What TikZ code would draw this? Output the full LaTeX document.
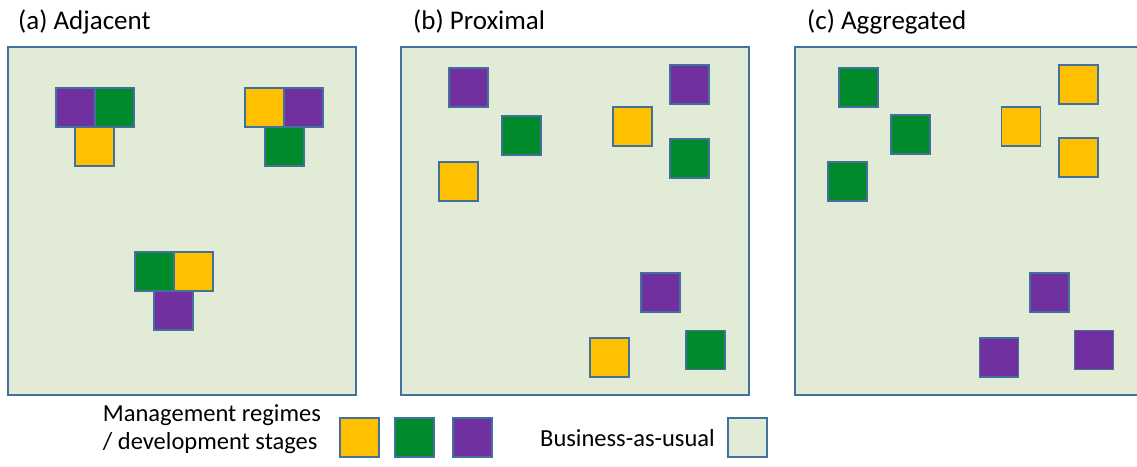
\documentclass[tikz,border=0pt]{standalone}
\usepackage{fontspec}
\setmainfont{Carlito}
\definecolor{bau}{HTML}{E2EBD6}
\definecolor{edge}{HTML}{41719C}
\definecolor{myyellow}{HTML}{FFC000}
\definecolor{mygreen}{HTML}{008A2B}
\definecolor{mypurple}{HTML}{7030A0}
\tikzset{
  panel/.style={draw=edge, line width=1.6pt, fill=bau},
  sq/.style={draw=edge, line width=1.2pt, minimum width=39pt, minimum height=39pt, inner sep=0pt, outer sep=0pt},
  ys/.style={sq, fill=myyellow},
  gs/.style={sq, fill=mygreen},
  ps/.style={sq, fill=mypurple},
  bs/.style={sq, fill=bau},
  title/.style={font=\fontsize{27}{32}\selectfont, inner sep=0pt, anchor=base west},
  legtext/.style={font=\fontsize{24.5}{29}\selectfont, inner sep=0pt}
}
\begin{document}
\begin{tikzpicture}[x=1pt, y=-1pt]
\useasboundingbox (0,0) rectangle (1137,466);
\clip (0,0) rectangle (1137,466);
% titles
\node[title] (ta) at (18,29) {(a) Adjacent};
\node[title] (tb) at (413,29) {(b) Proximal};
\node[title] (tc) at (807,29) {(c) Aggregated};
% panels
\draw[panel] (8,47) rectangle (356,395);
\draw[panel] (401,47) rectangle (749,395);
\draw[panel] (795,47) rectangle (1143,395);
% panel (a)
\node[ps] (a1) at (75.5,107.5) {};
\node[gs] (a2) at (114.5,107.5) {};
\node[ys] (a3) at (94.5,146.5) {};
\node[ys] (a4) at (264.5,107.5) {};
\node[ps] (a5) at (303.5,107.5) {};
\node[gs] (a6) at (284.5,146.5) {};
\node[gs] (a7) at (154.5,271.5) {};
\node[ys] (a8) at (193.5,271.5) {};
\node[ps] (a9) at (173.5,310.5) {};
% panel (b)
\node[ps] (b1) at (468.5,87.5) {};
\node[gs] (b2) at (521.5,135.5) {};
\node[ys] (b3) at (458.5,181.5) {};
\node[ys] (b4) at (632.5,126.5) {};
\node[ps] (b5) at (689.5,84.5) {};
\node[gs] (b6) at (689.5,158.5) {};
\node[ps] (b7) at (660.5,292.5) {};
\node[gs] (b8) at (705.5,350) {};
\node[ys] (b9) at (609.5,357.5) {};
% panel (c)
\node[gs] (c1) at (858.5,87.5) {};
\node[gs] (c2) at (910.5,134.5) {};
\node[gs] (c3) at (847.5,181.5) {};
\node[ys] (c4) at (1078.5,84.5) {};
\node[ys] (c5) at (1021,126.5) {};
\node[ys] (c6) at (1078.5,157.5) {};
\node[ps] (c7) at (1049.5,292.5) {};
\node[ps] (c8) at (999,357.5) {};
\node[ps] (c9) at (1094,350) {};
% legend
\node[legtext, anchor=base east] (leg1) at (321,421) {Management regimes};
\node[legtext, anchor=base west] (leg2) at ([yshift=-28pt]leg1.base west) {/ development stages};
\node[ys] (ly) at (359.5,437.5) {};
\node[gs] (lg) at (414.5,437.5) {};
\node[ps] (lp) at (472.5,437.5) {};
\node[legtext, anchor=base east] (legb) at (715,446) {Business-as-usual};
\node[bs] (lb) at (747.5,437.5) {};
\end{tikzpicture}
\end{document}
